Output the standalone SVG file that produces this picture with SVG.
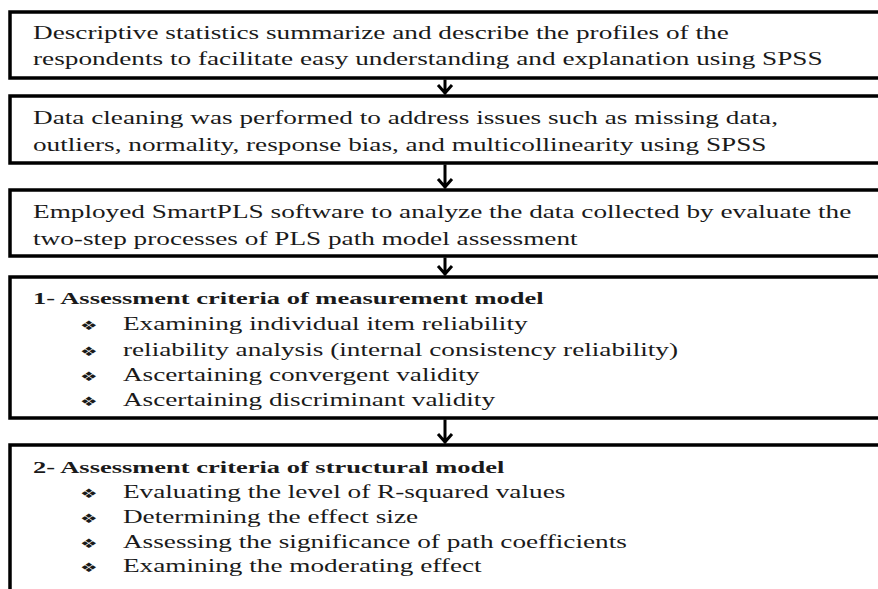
<svg xmlns="http://www.w3.org/2000/svg" width="878" height="589" viewBox="0 0 878 589">
<style>
.box{fill:#fff;stroke:#000;stroke-width:3.5}
.t{font-family:"Liberation Serif",serif;font-size:18px;fill:#1a1a1a}
.b{font-family:"Liberation Serif",serif;font-size:17.5px;font-weight:bold;fill:#1a1a1a}
.bul{font-family:"DejaVu Sans",sans-serif;font-size:13px;fill:#1a1a1a}
.con{stroke:#000;stroke-width:3;fill:none}
</style>
<rect width="878" height="589" fill="#fff"/>
<g id="n1"><rect class="box" x="10" y="12" width="880" height="66"/>
<g transform="scale(1.514,1)">
<text class="t" x="21.8" y="39">Descriptive statistics summarize and describe the profiles of the</text>
<text class="t" x="21.8" y="65">respondents to facilitate easy understanding and explanation using SPSS</text></g></g>
<g id="n2"><rect class="box" x="10" y="96" width="880" height="67"/>
<g transform="scale(1.514,1)">
<text class="t" x="21.8" y="124">Data cleaning was performed to address issues such as missing data,</text>
<text class="t" x="21.8" y="151">outliers, normality, response bias, and multicollinearity using SPSS</text></g></g>
<g id="n3"><rect class="box" x="10" y="190" width="880" height="66"/>
<g transform="scale(1.514,1)">
<text class="t" x="21.8" y="218">Employed SmartPLS software to analyze the data collected by evaluate the</text>
<text class="t" x="21.8" y="245">two-step processes of PLS path model assessment</text></g></g>
<g id="n4"><rect class="box" x="10" y="277" width="880" height="141"/>
<g transform="scale(1.514,1)">
<text class="b" x="21.8" y="304">1- Assessment criteria of measurement model</text>
<text class="bul" x="52.8" y="330">❖</text><text class="t" x="81.2" y="330">Examining individual item reliability</text>
<text class="bul" x="52.8" y="356">❖</text><text class="t" x="81.2" y="356">reliability analysis (internal consistency reliability)</text>
<text class="bul" x="52.8" y="381">❖</text><text class="t" x="81.2" y="381">Ascertaining convergent validity</text>
<text class="bul" x="52.8" y="406">❖</text><text class="t" x="81.2" y="406">Ascertaining discriminant validity</text></g></g>
<g id="n5"><rect class="box" x="10" y="445" width="880" height="170"/>
<g transform="scale(1.514,1)">
<text class="b" x="21.8" y="473">2- Assessment criteria of structural model</text>
<text class="bul" x="52.8" y="498">❖</text><text class="t" x="81.2" y="498">Evaluating the level of R-squared values</text>
<text class="bul" x="52.8" y="523">❖</text><text class="t" x="81.2" y="523">Determining the effect size</text>
<text class="bul" x="52.8" y="548">❖</text><text class="t" x="81.2" y="548">Assessing the significance of path coefficients</text>
<text class="bul" x="52.8" y="572">❖</text><text class="t" x="81.2" y="572">Examining the moderating effect</text></g></g>
<g id="connectors">
<path class="con" d="M445 79.5V94M438 85l7 8 7-8"/>
<path class="con" d="M445 164.5V188M438 179l7 8 7-8"/>
<path class="con" d="M445 257.5V275M438 266l7 8 7-8"/>
<path class="con" d="M445 419.5V443M438 434l7 8 7-8"/>
</g>
</svg>
